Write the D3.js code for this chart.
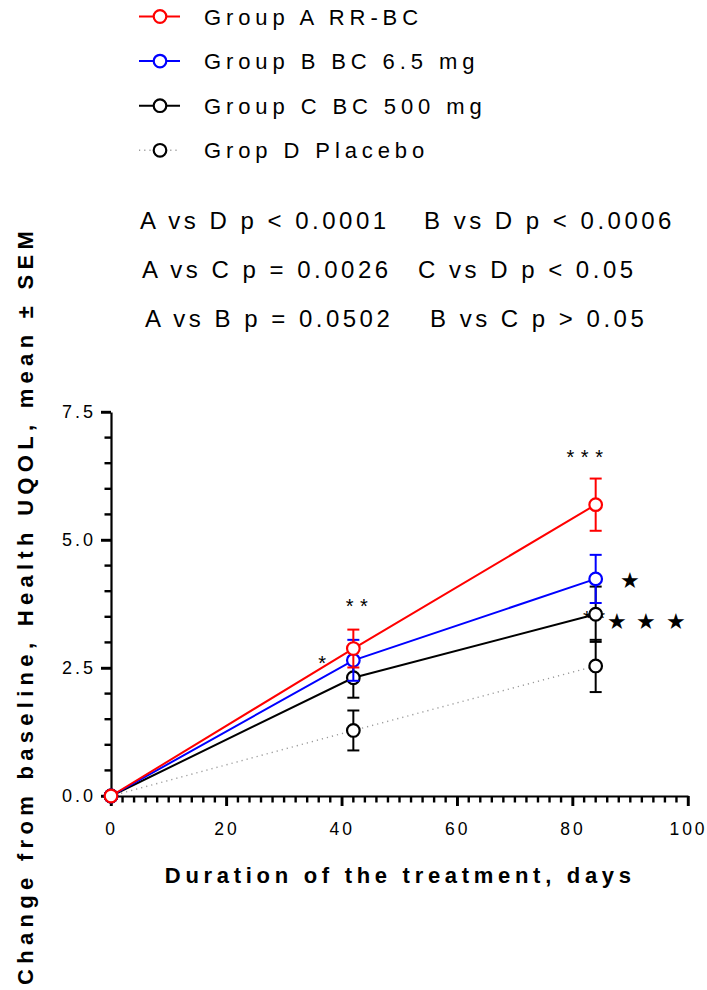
<!DOCTYPE html>
<html>
<head>
<meta charset="utf-8">
<script src="https://cdn.jsdelivr.net/npm/d3@7"></script>
<style>
  body { margin: 0; background: #fff; }
  svg text { font-family: "Liberation Sans", Arial, sans-serif; fill: #000; }
</style>
</head>
<body>
<svg id="chart" width="707" height="990"></svg>
<script>
// Visit days and group means / SEM of the change from baseline
const days = [0, 42, 84];
const groupLabels = ["Group A RR-BC", "Group B BC 6.5 mg", "Group C BC 500 mg", "Grop D Placebo"];
const meanA = [0, 2.88, 5.69];
const semA  = [0, 0.37, 0.51];
const meanB = [0, 2.65, 4.24];
const semB  = [0, 0.40, 0.47];
const meanC = [0, 2.31, 3.55];
const semC  = [0, 0.39, 0.54];
const meanD = [0, 1.28, 2.54];
const semD  = [0, 0.39, 0.51];

// Axis ticks
const xTicks = [0, 20, 40, 60, 80, 100];
const xMinorTicks = d3.range(0, 101, 2);
const yTicks = [0, 2.5, 5.0, 7.5];
const yMinorTicks = d3.range(0, 7.51, 0.5);

// Pairwise comparisons printed above the plot
const pLeft  = ["A vs D p < 0.0001", "A vs C p = 0.0026", "A vs B p = 0.0502"];
const pRight = ["B vs D p < 0.0006", "C vs D p < 0.05", "B vs C p > 0.05"];

// Significance marks placed in data coordinates
const markText  = ["*", "* *", "* * *", "* *", "\u2605", "\u2605 \u2605 \u2605"];
const markDay   = [36.6, 42.6, 82.1, 83.7, 89.9, 92.8];
const markValue = [2.70, 3.81, 6.72, 3.58, 4.21, 3.42];

const styles = [
  { color: "#ff0000", dash: null,  lineColor: "#ff0000", lineWidth: 2 },
  { color: "#0000ff", dash: null,  lineColor: "#0000ff", lineWidth: 2 },
  { color: "#000000", dash: null,  lineColor: "#000000", lineWidth: 2 },
  { color: "#000000", dash: "1.2,4", lineColor: "#9a9a9a", lineWidth: 1.4 }
];
const means = [meanA, meanB, meanC, meanD];
const sems = [semA, semB, semC, semD];

const svg = d3.select("#chart");
const x = d3.scaleLinear().domain([0, 100]).range([111, 688]);
const y = d3.scaleLinear().domain([0, 7.5]).range([796, 412]);

// ---- legend ----
const legend = svg.append("g");
groupLabels.forEach((label, i) => {
  const cy = 16.5 + i * 44.6;
  const s = styles[i];
  legend.append("line")
    .attr("x1", 139).attr("x2", 180).attr("y1", cy).attr("y2", cy)
    .attr("stroke", s.lineColor).attr("stroke-width", s.lineWidth)
    .attr("stroke-dasharray", s.dash);
  legend.append("circle")
    .attr("cx", 160).attr("cy", cy).attr("r", 6.3)
    .attr("fill", "#fff").attr("stroke", s.color).attr("stroke-width", 2.2);
  legend.append("text")
    .attr("x", 204).attr("y", cy + 8)
    .attr("font-size", 22).attr("letter-spacing", 4.9)
    .text(label);
});

// ---- p-value table ----
const ptab = svg.append("g").attr("font-size", 24).attr("letter-spacing", 3.5);
pLeft.forEach((t, i) => {
  ptab.append("text").attr("x", [140, 142, 145][i]).attr("y", 229 + i * 49).text(t);
});
pRight.forEach((t, i) => {
  ptab.append("text").attr("x", [424, 418, 430][i]).attr("y", 229 + i * 49).text(t);
});

// ---- axes ----
const axes = svg.append("g");

// tick marks as small filled bars, major and minor
const tw = 2.4;
axes.selectAll("rect.ytick").data(yMinorTicks).join("rect")
  .attr("class", "ytick")
  .attr("x", v => x(0) - (yTicks.some(t => Math.abs(t - v) < 1e-9) ? 10 : 6.5))
  .attr("y", v => y(v) - tw / 2)
  .attr("width", v => (yTicks.some(t => Math.abs(t - v) < 1e-9) ? 10 : 6.5))
  .attr("height", tw)
  .attr("fill", "#000");
axes.selectAll("rect.xtick").data(xMinorTicks).join("rect")
  .attr("class", "xtick")
  .attr("x", v => x(v) - tw / 2)
  .attr("y", y(0))
  .attr("width", tw)
  .attr("height", v => (xTicks.includes(v) ? 10 : 6.5))
  .attr("fill", "#000");

const yAxis = axes.append("g").attr("transform", `translate(${x(0)},0)`)
  .call(d3.axisLeft(y).tickValues(yTicks).tickSize(10).tickSizeOuter(0)
    .tickPadding(5).tickFormat(d3.format(".1f")));
const xAxis = axes.append("g").attr("transform", `translate(0,${y(0)})`)
  .call(d3.axisBottom(x).tickValues(xTicks).tickSize(10).tickSizeOuter(0)
    .tickPadding(17).tickFormat(d3.format("d")));

[yAxis, xAxis].forEach(g => {
  g.selectAll("path.domain").attr("stroke", "#000").attr("stroke-width", 2.2);
  g.selectAll(".tick line").attr("stroke", "#000").attr("stroke-width", 2.4);
  g.selectAll("text")
    .attr("font-family", "Liberation Sans, Arial, sans-serif")
    .attr("fill", "#000").attr("letter-spacing", 3);
});
yAxis.selectAll("text").attr("font-size", 18);
xAxis.selectAll("text").attr("font-size", 17.5);

// ---- axis titles ----
svg.append("text")
  .attr("transform", "translate(33,608) rotate(-90)")
  .attr("text-anchor", "middle").attr("dx", 2.6)
  .attr("font-size", 22).attr("font-weight", "bold").attr("letter-spacing", 5.3)
  .text("Change from baseline, Health UQOL, mean \u00b1 SEM");

svg.append("text")
  .attr("x", 398).attr("y", 883)
  .attr("text-anchor", "middle").attr("dx", 2.3)
  .attr("font-size", 22).attr("font-weight", "bold").attr("letter-spacing", 4.7)
  .text("Duration of the treatment, days");

// ---- significance marks ----
const marks = svg.append("g");
markText.forEach((t, i) => {
  const star = t.includes("\u2605");
  marks.append("text")
    .attr("x", x(markDay[i])).attr("y", y(markValue[i]))
    .attr("dy", star ? "0.36em" : "0.6em")
    .attr("text-anchor", "middle")
    .attr("font-family", star ? "DejaVu Sans" : "Liberation Sans, Arial, sans-serif")
    .attr("font-size", star ? 22 : 20)
    .attr("letter-spacing", star ? 1.8 : 0.5)
    .attr("dx", star ? 0.9 : 0.25)
    .text(t);
});

// ---- data series, placebo first so Group A sits on top ----
const plot = svg.append("g");
[3, 2, 1, 0].forEach(gi => {
  const s = styles[gi];
  const pts = days.map((d, k) => ({ d, m: means[gi][k], e: sems[gi][k] }));
  const g = plot.append("g");

  // error bars
  pts.filter(p => p.e > 0).forEach(p => {
    g.append("line")
      .attr("x1", x(p.d)).attr("x2", x(p.d))
      .attr("y1", y(p.m - p.e)).attr("y2", y(p.m + p.e))
      .attr("stroke", s.color).attr("stroke-width", 2);
    [p.m - p.e, p.m + p.e].forEach(v => {
      g.append("line")
        .attr("x1", x(p.d) - 6).attr("x2", x(p.d) + 6)
        .attr("y1", y(v)).attr("y2", y(v))
        .attr("stroke", s.color).attr("stroke-width", 2);
    });
  });

  // connecting line
  g.append("path")
    .datum(pts)
    .attr("fill", "none")
    .attr("stroke", s.lineColor).attr("stroke-width", s.lineWidth)
    .attr("stroke-dasharray", s.dash)
    .attr("d", d3.line().x(p => x(p.d)).y(p => y(p.m)));

  // hollow circle markers
  g.selectAll("circle").data(pts).join("circle")
    .attr("cx", p => x(p.d)).attr("cy", p => y(p.m)).attr("r", 6.3)
    .attr("fill", "#fff").attr("stroke", s.color).attr("stroke-width", 2.2);
});
</script>
</body>
</html>
